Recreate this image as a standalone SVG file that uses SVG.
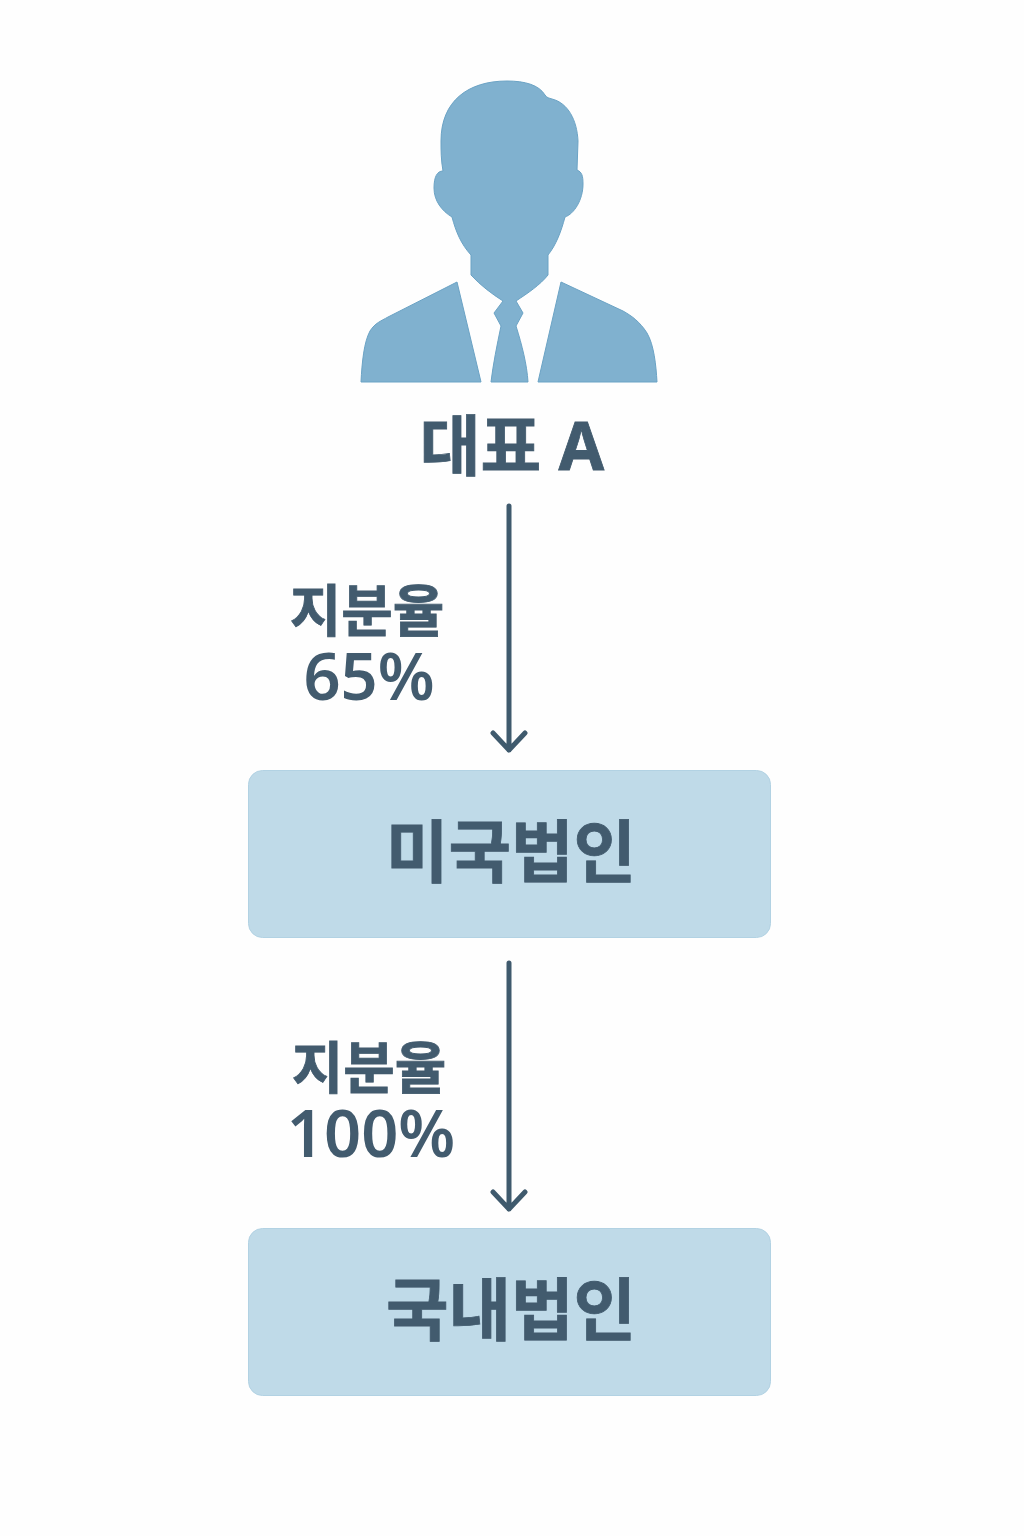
<svg xmlns="http://www.w3.org/2000/svg" width="1024" height="1536" viewBox="0 0 1024 1536">
<style>
.p{fill:#80b1cf;stroke:#6ba3c5;stroke-width:1;stroke-linejoin:round}
.box{fill:#bfdae8;stroke:#b2d2e3;stroke-width:1}
text{font-family:"Noto Sans","Noto Sans CJK KR",sans-serif;fill:#425b6e;text-anchor:middle;font-weight:700;stroke:#425b6e;stroke-width:.8}
.conn{fill:none;stroke:#3f5a6d;stroke-width:5;stroke-linecap:round;stroke-linejoin:round}
.pct{font-size:65px;font-weight:600;stroke-width:0}
</style>
<rect width="1024" height="1536" fill="#fefefe"/>
<g id="person">
<path class="p" d="M507 81C525 81 539 85 545 95C547 98 549 98 552 99C568 103 577 120 578 141L577 170C582 172 583 176 583 184C583 200 574 214 565 217C561 232 556 245 548 255L548 275C540 285 528 293 516 301L523 313L516 326C522 345 527 365 528 382L491 382C493 365 497 345 501 326L494 313L503 301C492 294 480 285 471 275L471 255C461 244 456 232 452 217C442 211 434 201 434 188C434 177 437 171 443 171C441 160 441 150 441 141C441 101 468 81 507 81Z"/>
<path class="p" d="M457 282L481 382L361 382C362 362 364 342 370 331C375 323 381 321 388 317Z"/>
<path class="p" d="M561 282L538 382L657 382C656 365 654 345 647 333C640 322 632 316 623 311Z"/>
<text x="512" y="470" font-size="66">대표 A</text>
</g>
<g id="connectors">
<path class="conn" d="M509 506V750M493 733L509 750L525 733"/>
<path class="conn" d="M509 963V1209M493 1192L509 1209L525 1192"/>
</g>
<g id="label-65">
<text font-size="56"><tspan x="367" y="631">지분율</tspan><tspan class="pct" x="369" y="700">65%</tspan></text>
</g>
<g id="label-100">
<text font-size="56"><tspan x="369" y="1088">지분율</tspan><tspan class="pct" x="371" y="1157">100%</tspan></text>
</g>
<g id="node-us">
<rect class="box" x="248.500" y="770.500" width="522" height="167" rx="14"/>
<text x="511" y="877" font-size="68">미국법인</text>
</g>
<g id="node-kr">
<rect class="box" x="248.500" y="1228.500" width="522" height="167" rx="14"/>
<text x="511" y="1335" font-size="68">국내법인</text>
</g>
</svg>
